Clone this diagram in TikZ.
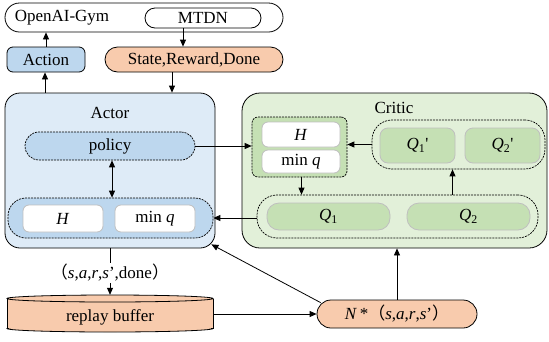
\documentclass[tikz,border=0pt]{standalone}
\usepackage{fontspec}
\setmainfont{Liberation Serif}
\newfontfamily\cjk{Noto Sans CJK SC}
\usetikzlibrary{arrows.meta}
\definecolor{blueF}{HTML}{BDD7EE}
\definecolor{actorF}{HTML}{DEEBF7}
\definecolor{greenF}{HTML}{C5E0B4}
\definecolor{criticF}{HTML}{E2F0D9}
\definecolor{orangeF}{HTML}{F8CBAD}
\definecolor{softline}{HTML}{BFBFBF}
\tikzset{
  txt/.style={font=\fontsize{17}{19}\selectfont, inner sep=0pt},
  box/.style={txt, draw=black, line width=0.8pt, rectangle},
  inner/.style={txt, draw=softline, line width=0.8pt, rectangle, rounded corners=6pt},
  grp/.style={draw=black, line width=0.7pt, dash pattern=on 2pt off 1pt, rectangle},
  arr/.style={line width=0.8pt, -{Triangle[length=7pt,width=6pt]}},
  darr/.style={line width=0.8pt, {Triangle[length=7pt,width=6pt]}-{Triangle[length=7pt,width=6pt]}},
  ln/.style={line width=0.8pt},
}
\begin{document}
\begin{tikzpicture}[x=1pt,y=-1pt]
\useasboundingbox (0,0) rectangle (549,341);

% environment row
\node[box, rounded corners=14.5pt, minimum width=278, minimum height=29] (gym) at (144,17.5) {};
\node[txt] (gymtext) at (62,18) {OpenAI-Gym};
\node[box, rounded corners=10pt, minimum width=116, minimum height=20] (mtdn) at (203,18) {MTDN};
\node[box, fill=blueF, rounded corners=6pt, minimum width=78, minimum height=25] (action) at (46,59.5) {Action};
\node[box, fill=orangeF, rounded corners=12.5pt, minimum width=178, minimum height=25] (state) at (194,59.5) {State,Reward,Done};

% actor
\node[box, fill=actorF, rounded corners=15pt, minimum width=210, minimum height=155] (actor) at (110,170.5) {};
\node[txt] (actorlabel) at (110,113) {Actor};
\node[grp, txt, fill=blueF, rounded corners=14pt, minimum width=170, minimum height=28] (policy) at (110,146) {policy};
\node[grp, fill=blueF, rounded corners=18pt, minimum width=205, minimum height=40] (agrp) at (110.5,218) {};
\node[inner, fill=white, minimum width=80, minimum height=27] (aH) at (63,218.5) {\textit{H}};
\node[inner, fill=white, minimum width=80, minimum height=27] (aminq) at (155,218.5) {min \textit{q}};

% critic
\node[box, fill=criticF, rounded corners=18pt, minimum width=305, minimum height=155] (critic) at (394.5,170.5) {};
\node[txt] (criticlabel) at (394,108) {Critic};
\node[grp, fill=greenF, rounded corners=6pt, minimum width=95, minimum height=60] (hgrp) at (299.5,147) {};
\node[inner, fill=white, minimum width=78, minimum height=25] (cH) at (301,134.5) {\textit{H}};
\node[inner, fill=white, minimum width=78, minimum height=23] (cminq) at (301,161.5) {min \textit{q}};
\node[grp, fill=criticF, rounded corners=20pt, minimum width=173, minimum height=49] (qpgrp) at (458.5,144.5) {};
\node[inner, fill=greenF, rounded corners=8pt, minimum width=75, minimum height=35] (q1p) at (417.5,145.5) {\textit{Q}\textsubscript{1}\textquotesingle};
\node[inner, fill=greenF, rounded corners=8pt, minimum width=75, minimum height=35] (q2p) at (502.5,145.5) {\textit{Q}\textsubscript{2}\textquotesingle};
\node[grp, fill=criticF, rounded corners=20pt, minimum width=281, minimum height=43] (qgrp) at (397.5,216.5) {};
\node[inner, fill=greenF, rounded corners=12pt, minimum width=123, minimum height=27] (q1) at (328.5,216.5) {\textit{Q}\textsubscript{1}};
\node[inner, fill=greenF, rounded corners=12pt, minimum width=123, minimum height=27] (q2) at (468.5,216.5) {\textit{Q}\textsubscript{2}};

% replay buffer drawn as a flat cylinder
\fill[orangeF] (7,298.5) rectangle (213,328.5);
\fill[orangeF] (110,328.5) ellipse [x radius=103, y radius=3.5];
\begin{scope}
  \clip (0,328.5) rectangle (220,341);
  \draw[ln] (110,328.5) ellipse [x radius=103, y radius=3.5];
\end{scope}
\draw[ln] (7,298.5) -- (7,328.5) (213,298.5) -- (213,328.5);
\draw[ln, fill=orangeF] (110,298.5) ellipse [x radius=103, y radius=3.5];
\node[txt, minimum width=206, minimum height=37] (buffer) at (110,313.5) {};
\node[txt] (buffertext) at (110,317.5) {replay buffer};

\node[box, fill=orangeF, rounded corners=14pt, minimum width=160, minimum height=28] (nstar) at (397,314)
  {\textit{N}\,*{\cjk （}\textit{s},\textit{a},\textit{r},\textit{s}’{\cjk ）}};
\node[txt, fill=white, inner sep=1pt] (tuple) at (110,273)
  {{\cjk （}\textit{s},\textit{a},\textit{r},\textit{s}’,done{\cjk ）}};

% connectors
\draw[arr] (action.north) -- (action.north |- gym.south);
\draw[arr] ([xshift=-20pt]mtdn.south) -- ([xshift=-20pt]mtdn.south |- state.north);
\draw[arr] ([xshift=-22pt]state.south) -- ([xshift=-22pt]state.south |- actor.north);
\draw[arr] ([xshift=-1pt]action.south |- actor.north) -- ([xshift=-1pt]action.south);
\draw[darr] ([xshift=2pt]policy.south) -- ([xshift=2pt]policy.south |- agrp.north);
\draw[arr] (policy.east) -- (policy.east -| hgrp.west);
\draw[arr] (qpgrp.west) -- (qpgrp.west -| hgrp.east);
\draw[arr] ([xshift=2pt]hgrp.south) -- ([xshift=2pt]hgrp.south |- qgrp.north);
\draw[arr] ([xshift=-6pt]qpgrp.south |- qgrp.north) -- ([xshift=-6pt]qpgrp.south);
\draw[arr] (agrp.east -| qgrp.west) -- (agrp.east);
\draw[ln] (tuple.north |- actor.south) -- (tuple.north);
\draw[arr] (tuple.south) -- (tuple.south |- buffer.north);
\draw[arr] (nstar.west -| buffer.east) -- (nstar.west);
\draw[arr] ([shift={(4pt,-3pt)}]nstar.north west) -- ([shift={(-4pt,4pt)}]actor.south east);
\draw[arr] (nstar.north) -- (nstar.north |- critic.south);
\end{tikzpicture}
\end{document}
